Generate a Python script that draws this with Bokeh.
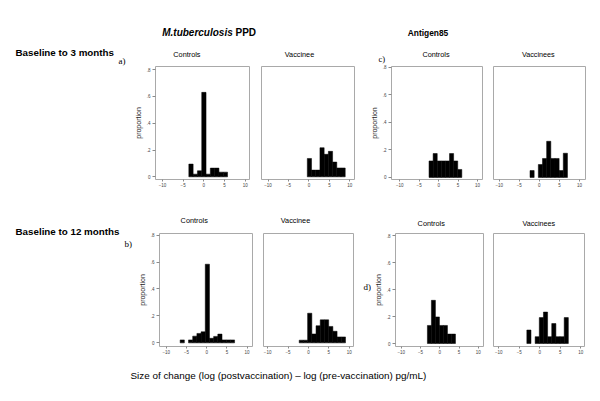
import numpy as np
from bokeh.plotting import figure
from bokeh.layouts import row, column
from bokeh.models import Range1d, FixedTicker
from bokeh.core.properties import value
from bokeh.embed import file_html
from bokeh.resources import INLINE

# ---------------- data ----------------
x_ticks = [-10, -5, 0, 5, 10]
y_ticks = [0, 0.2, 0.4, 0.6, 0.8]
y_tick_labels = ["0", ".2", ".4", ".6", ".8"]

# M.tuberculosis PPD, baseline to 3 months (bin start, bin width, proportions)
ppd3_ctrl_start, ppd3_ctrl_width = -3.63, 1.04
ppd3_ctrl = [0.095, 0.02, 0.045, 0.63, 0.02, 0.065, 0.065, 0.035, 0.035]
ppd3_vacc_start, ppd3_vacc_width = -0.4, 1.03
ppd3_vacc = [0.137, 0.05, 0.05, 0.217, 0.168, 0.19, 0.11, 0.066, 0.066]

# Antigen85, baseline to 3 months
ag3_ctrl_start, ag3_ctrl_width = -2.47, 1.054
ag3_ctrl = [0.12, 0.174, 0.12, 0.12, 0.12, 0.174, 0.12, 0.058]
ag3_vacc_start, ag3_vacc_width = -2.33, 1.037
ag3_vacc = [0.05, 0.0, 0.094, 0.138, 0.263, 0.138, 0.138, 0.05, 0.176]

# M.tuberculosis PPD, baseline to 12 months
ppd12_ctrl_start, ppd12_ctrl_width = -6.56, 1.035
ppd12_ctrl = [0.022, 0.0, 0.022, 0.05, 0.07, 0.082, 0.584, 0.034, 0.048, 0.065, 0.022, 0.022, 0.022]
ppd12_vacc_start, ppd12_vacc_width = -2.26, 1.03
ppd12_vacc = [0.02, 0.02, 0.22, 0.066, 0.127, 0.171, 0.171, 0.122, 0.086, 0.044, 0.044]

# Antigen85, baseline to 12 months
ag12_ctrl_start, ag12_ctrl_width = -3.22, 1.04
ag12_ctrl = [0.134, 0.32, 0.197, 0.134, 0.134, 0.07, 0.07]
ag12_vacc_start, ag12_vacc_width = -3.16, 1.012
ag12_vacc = [0.1, 0.0, 0.051, 0.192, 0.233, 0.051, 0.148, 0.051, 0.051, 0.192]

SANS = "Liberation Sans"
SERIF = "Liberation Serif"


def panel(w, h, borders, xr, yr, start, bw, heights, show_y):
    bl, br, bt, bb = borders
    p = figure(width=w, height=h, output_backend="svg", toolbar_location=None,
               x_range=Range1d(*xr), y_range=Range1d(*yr),
               min_border_left=bl, min_border_right=br,
               min_border_top=bt, min_border_bottom=bb)
    hv = np.array(heights, dtype=float)
    left = start + bw * np.arange(len(hv))
    keep = hv > 0
    p.quad(left=left[keep], right=left[keep] + bw, bottom=0, top=hv[keep],
           fill_color="black", line_color="black", line_width=0.5)
    p.xgrid.visible = False
    p.ygrid.visible = False
    p.outline_line_color = "#a9a9a9"
    p.outline_line_width = 1
    p.background_fill_color = "white"
    p.border_fill_color = "white"
    xa = p.xaxis[0]
    xa.ticker = FixedTicker(ticks=x_ticks)
    xa.axis_line_color = None
    xa.minor_tick_line_color = None
    xa.major_tick_in = 0
    xa.major_tick_out = 2
    xa.major_tick_line_color = "#8a8a8a"
    xa.major_label_standoff = 1
    xa.major_label_text_font = SANS
    xa.major_label_text_font_size = "4.5px"
    xa.major_label_text_color = "#444444"
    ya = p.yaxis[0]
    if show_y:
        ya.ticker = FixedTicker(ticks=y_ticks)
        ya.major_label_overrides = dict(zip(y_ticks, y_tick_labels))
        ya.axis_line_color = None
        ya.minor_tick_line_color = None
        ya.major_tick_in = 0
        ya.major_tick_out = 3
        ya.major_tick_line_color = "#8a8a8a"
        ya.major_label_standoff = 2
        ya.major_label_text_font = SANS
        ya.major_label_text_font_size = "4.5px"
        ya.major_label_text_color = "#444444"
        ya.axis_label = "proportion"
        ya.axis_label_text_font = SANS
        ya.axis_label_text_font_size = "7px"
        ya.axis_label_text_font_style = "normal"
        ya.axis_label_text_color = "#222222"
        ya.axis_label_standoff = 2
    else:
        ya.visible = False
    return p


def text_fig(x0, x1, y0, y1):
    p = figure(width=x1 - x0, height=y1 - y0, output_backend="svg", toolbar_location=None,
               x_range=Range1d(x0, x1), y_range=Range1d(y1, y0),
               x_axis_type=None, y_axis_type=None, min_border=0)
    p.outline_line_color = None
    p.background_fill_color = "white"
    p.border_fill_color = "white"
    return p


def put(p, x, y, txt, size, style="normal", align="left", font=SANS, color="black"):
    p.text(x=[x], y=[y], text=[txt], text_font=value(font), text_font_size=value(size),
           text_font_style=style, text_align=align, text_baseline="middle", text_color=color)


# ---------------- header ----------------
header = text_fig(0, 600, 0, 42)
put(header, 161.7, 31.7, "M.tuberculosis", "10px", "bold italic")
put(header, 235.0, 31.7, "PPD", "10px", "bold")
put(header, 427.5, 32.7, "Antigen85", "8.4px", "bold", "center")

# ---------------- row 1: baseline to 3 months ----------------
left1 = text_fig(0, 130, 42, 200)
put(left1, 15, 51.7, "Baseline to 3 months", "9.8px", "bold")
put(left1, 118, 60.5, "a)", "9px", font=SERIF)

strip1 = text_fig(130, 600, 42, 64)
put(strip1, 186.4, 54, "Controls", "7.3px", align="center")
put(strip1, 299.0, 54, "Vaccinee", "7.3px", align="center")
put(strip1, 378.0, 58.8, "c)", "8.6px", font=SERIF)
put(strip1, 435.5, 54, "Controls", "7.3px", align="center")
put(strip1, 537.8, 54, "Vaccinees", "7.2px", align="center")

aC = panel(125, 136, (25, 6, 0, 17), (-11.69, 11.04), (-0.02, 0.823),
           ppd3_ctrl_start, ppd3_ctrl_width, ppd3_ctrl, True)
aV = panel(105, 136, (6, 6, 0, 17), (-11.6, 11.14), (-0.02, 0.823),
           ppd3_vacc_start, ppd3_vacc_width, ppd3_vacc, False)
cC = panel(127, 136, (31, 5, 2, 21), (-12.12, 11.28), (-0.015, 0.807),
           ag3_ctrl_start, ag3_ctrl_width, ag3_ctrl, True)
cV = panel(113, 136, (6, 15, 2, 21), (-11.43, 11.5), (-0.015, 0.807),
           ag3_vacc_start, ag3_vacc_width, ag3_vacc, False)

row1 = row(left1, column(strip1, row(aC, aV, cC, cV)))

# ---------------- row 2: baseline to 12 months ----------------
left2 = text_fig(0, 134, 200, 360)
put(left2, 15, 230.7, "Baseline to 12 months", "9.8px", "bold")
put(left2, 124, 243.5, "b)", "9px", font=SERIF)

strip2 = text_fig(134, 600, 200, 229)
put(strip2, 193.7, 220, "Controls", "7.3px", align="center")
put(strip2, 295.0, 220, "Vaccinee", "7.3px", align="center")
put(strip2, 430.7, 223.3, "Controls", "7.3px", align="center")
put(strip2, 538.3, 223.3, "Vaccinees", "7.2px", align="center")

mid2 = text_fig(359, 371, 229, 360)
put(mid2, 363, 291.3, "d)", "9px", font=SERIF)

bC = panel(123, 131, (25, 5, 1, 14), (-11.67, 11.33), (-0.027, 0.812),
           ppd12_ctrl_start, ppd12_ctrl_width, ppd12_ctrl, True)
bV = panel(102, 131, (6, 6, 1, 14), (-11.0, 11.03), (-0.027, 0.812),
           ppd12_vacc_start, ppd12_vacc_width, ppd12_vacc, False)
dC = panel(116, 131, (20, 4, 4, 13), (-11.49, 11.33), (-0.022, 0.815),
           ag12_ctrl_start, ag12_ctrl_width, ag12_ctrl, True)
dV = panel(113, 131, (6, 16, 4, 13), (-11.29, 10.9), (-0.022, 0.815),
           ag12_vacc_start, ag12_vacc_width, ag12_vacc, False)

row2 = row(left2, column(strip2, row(bC, bV, mid2, dC, dV)))

# ---------------- footer ----------------
footer = text_fig(0, 600, 360, 401)
put(footer, 130, 375, "Size of change (log (postvaccination) \u2013 log (pre-vaccination)  pg/mL)", "9.9px")

layout = column(header, row1, row2, footer)

open("out.html", "w").write(file_html(layout, INLINE))
